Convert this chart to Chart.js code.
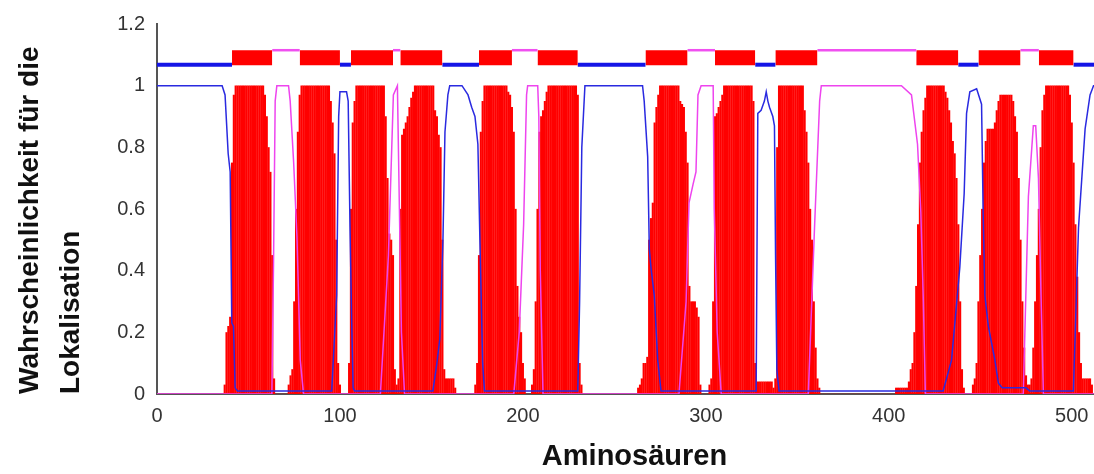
<!DOCTYPE html>
<html lang="de">
  <head>
    <meta charset="UTF-8" />
    <title>TMHMM</title>
    <script src="https://cdn.jsdelivr.net/npm/chart.js@4.4.1/dist/chart.umd.min.js"></script>
    <style>
      html, body { margin: 0; background: #fff; overflow: hidden; }
    </style>
  </head>
  <body>
    <!-- the original plot is cut off on the right, so the canvas is a bit wider than the window -->
    <canvas id="tm-chart" width="1112" height="474"></canvas>
    <script>
      // transmembrane probability, per residue, starting at tmStart[i]
      const tmStart = [37, 72, 105, 132, 174, 205, 263, 302, 338, 404, 446, 478];
      const tmProfiles = [
        [0.03, 0.2, 0.22, 0.25, 0.75, 0.97, 1, 1, 1, 1, 1, 1, 1, 1, 1, 1, 1, 1, 1, 1, 1, 1, 0.97, 0.9, 0.8, 0.72, 0.45, 0.05],
        [0.03, 0.06, 0.08, 0.3, 0.6, 0.85, 0.97, 1, 1, 1, 1, 1, 1, 1, 1, 1, 1, 1, 1, 1, 1, 1, 1, 0.95, 0.88, 0.78, 0.5, 0.1, 0.03],
        [0.1, 0.6, 0.88, 0.95, 1, 1, 1, 1, 1, 1, 1, 1, 1, 1, 1, 1, 1, 1, 1, 1, 0.9, 0.7, 0.52, 0.5, 0.45, 0.08, 0.03],
        [0.05, 0.6, 0.84, 0.86, 0.88, 0.9, 0.93, 0.96, 0.98, 1, 1, 1, 1, 1, 1, 1, 1, 1, 1, 1, 0.92, 0.9, 0.84, 0.8, 0.5, 0.08, 0.05, 0.05, 0.05, 0.05, 0.05, 0.02],
        [0.03, 0.1, 0.45, 0.85, 0.95, 1, 1, 1, 1, 1, 1, 1, 1, 1, 1, 1, 1, 1, 0.98, 0.97, 0.93, 0.85, 0.6, 0.35, 0.25, 0.2, 0.1, 0.05],
        [0.03, 0.08, 0.3, 0.6, 0.85, 0.9, 0.92, 0.95, 0.98, 1, 1, 1, 1, 1, 1, 1, 1, 1, 1, 1, 1, 1, 1, 1, 1, 0.97, 0.1, 0.03],
        [0.02, 0.03, 0.05, 0.1, 0.1, 0.12, 0.5, 0.57, 0.62, 0.88, 0.93, 0.97, 1, 1, 1, 1, 1, 1, 1, 1, 1, 1, 1, 0.95, 0.94, 0.93, 0.85, 0.75, 0.35, 0.3, 0.3, 0.3, 0.28, 0.25, 0.03],
        [0.03, 0.05, 0.3, 0.9, 0.91, 0.93, 0.95, 0.97, 1, 1, 1, 1, 1, 1, 1, 1, 1, 1, 1, 1, 1, 1, 1, 1, 0.95, 0.1, 0.04, 0.04, 0.04, 0.04, 0.04, 0.04, 0.04, 0.04, 0.04, 0.02],
        [0.05, 0.8, 1, 1, 1, 1, 1, 1, 1, 1, 1, 1, 1, 1, 1, 1, 0.92, 0.85, 0.75, 0.6, 0.5, 0.3, 0.15, 0.05, 0.02],
        [0.02, 0.02, 0.02, 0.02, 0.02, 0.02, 0.02, 0.04, 0.08, 0.1, 0.2, 0.35, 0.55, 0.75, 0.85, 0.92, 0.96, 1, 1, 1, 1, 1, 1, 1, 1, 1, 1, 0.98, 0.96, 0.92, 0.88, 0.82, 0.78, 0.7, 0.55, 0.3, 0.08, 0.02],
        [0.03, 0.05, 0.1, 0.3, 0.45, 0.6, 0.75, 0.82, 0.86, 0.86, 0.86, 0.86, 0.88, 0.92, 0.95, 0.97, 0.97, 0.97, 0.97, 0.97, 0.97, 0.97, 0.95, 0.9, 0.85, 0.7, 0.5, 0.3, 0.15, 0.06, 0.03, 0.03],
        [0.05, 0.15, 0.3, 0.45, 0.6, 0.8, 0.92, 0.97, 1, 1, 1, 1, 1, 1, 1, 1, 1, 1, 1, 1, 1, 0.97, 0.88, 0.75, 0.55, 0.38, 0.2, 0.1, 0.05, 0.05, 0.05, 0.05, 0.05, 0.03],
      ];

      // inside probability (blue), read as vertices
      const insideX = [0, 35.6, 37.2, 38.9, 40, 40.9, 41.8, 42.7, 44, 95.5, 98.2, 99.3, 100, 103.6, 104.5, 105.5, 106.4, 107.2, 108,
        150.8, 153, 154.6, 156.3, 157.4, 159, 160, 166.7, 170, 172, 173.8, 175.4, 176.5, 178, 179,
        230, 231, 232.2, 233.9, 265.4, 266.3, 268.2, 269.1, 270, 271.8, 273.7, 275.5,
        327.5, 328.4, 330.2, 332, 333, 333.9, 334.8, 336.6, 337.5, 338.1, 338.8, 340,
        429.7, 434.3, 438.8, 441.2, 442.5, 444.3, 448, 450.7, 451.6, 452.5, 454.4, 458, 459.9, 462, 475, 477,
        500.9, 503.7, 505.5, 507.3, 510, 511.9, 513];
      const insideY = [1, 1, 0.97, 0.78, 0.72, 0.23, 0.22, 0.02, 0.01, 0.01, 0.32, 0.9, 0.98, 0.98, 0.95, 0.54, 0.24, 0.02, 0.01,
        0.01, 0.1, 0.18, 0.5, 0.85, 0.97, 1, 1, 0.97, 0.93, 0.9, 0.81, 0.5, 0.1, 0.01,
        0.01, 0.3, 0.8, 1, 1, 0.95, 0.77, 0.47, 0.41, 0.32, 0.11, 0.01,
        0.01, 0.91, 0.92, 0.95, 0.98, 0.95, 0.93, 0.9, 0.87, 0.45, 0.08, 0.01,
        0.01, 0.11, 0.41, 0.65, 0.91, 0.98, 0.99, 0.94, 0.58, 0.32, 0.22, 0.11, 0.035, 0.02, 0.02, 0.01,
        0.01, 0.54, 0.7, 0.86, 0.97, 1, 1];

      // outside probability (magenta)
      const outsideX = [0, 62.8, 63.7, 64.6, 65.5, 71.9, 72.8, 74.7, 76.5, 78.3, 80.1,
        122.1, 126.5, 129.2, 131.4, 132.5, 133.6, 135.3,
        195, 198, 200.4, 202, 202.6, 208.1, 208.7, 209.5, 211,
        285.3, 289.2, 290.8, 293, 294.6, 295.7, 297.4, 304, 304.6, 306.2, 308.4,
        356, 359.4, 362.2, 363.1, 406.9, 412.4, 415.7, 417.5, 418.8, 420,
        473.5, 476.3, 479, 480.3, 481.8, 483.2, 484.5, 513];
      const outsideY = [0, 0, 0.43, 0.95, 1, 1, 0.95, 0.75, 0.51, 0.11, 0,
        0, 0.45, 0.97, 1, 0.6, 0.2, 0,
        0, 0.2, 0.55, 0.97, 1, 1, 0.9, 0.4, 0,
        0, 0.3, 0.62, 0.68, 0.72, 0.97, 1, 1, 0.6, 0.2, 0,
        0, 0.54, 0.95, 1, 1, 0.97, 0.81, 0.59, 0.32, 0,
        0, 0.64, 0.87, 0.87, 0.7, 0.32, 0, 0];

      // predicted topology: i = inside, M = helix, o = outside
      const topoStart = [0, 41, 63, 78, 100, 106, 129, 133, 156, 176, 194, 208, 230, 267, 290, 305, 327, 338, 361, 415, 438, 449, 472, 482, 501];
      const topoEnd = [41, 63, 78, 100, 106, 129, 133, 156, 176, 194, 208, 230, 267, 290, 305, 327, 338, 361, 415, 438, 449, 472, 482, 501, 513];
      const topoType = ["i", "M", "o", "M", "i", "M", "o", "M", "i", "M", "o", "M", "i", "M", "o", "M", "i", "M", "o", "M", "i", "M", "o", "M", "i"];

      const xTicks = [0, 100, 200, 300, 400, 500];
      const yTicks = [0, 0.2, 0.4, 0.6, 0.8, 1, 1.2];
      const lastResidue = 512;

      const tmData = [];
      for (let r = 0; r <= lastResidue; r++) tmData.push({ x: r, y: 0 });
      tmStart.forEach((s, i) => {
        tmProfiles[i].forEach((v, j) => { tmData[s + j].y = v; });
      });

      const toPoints = (xs, ys) => xs.map((x, i) => ({ x: x, y: ys[i] }));

      const datasets = [];
      topoType.forEach((t, i) => {
        if (t === "M") {
          datasets.push({
            type: "line",
            data: [{ x: topoStart[i], y: 1.115 }, { x: topoEnd[i], y: 1.115 }],
            borderWidth: 0,
            borderColor: "rgba(0,0,0,0)",
            backgroundColor: "#ff0000",
            fill: { value: 1.066 },
            pointRadius: 0,
            order: 0,
          });
        } else {
          const inside = t === "i";
          datasets.push({
            type: "line",
            data: [{ x: topoStart[i], y: inside ? 1.068 : 1.115 }, { x: topoEnd[i], y: inside ? 1.068 : 1.115 }],
            borderWidth: inside ? 4 : 2.5,
            borderColor: inside ? "#1515e6" : "#f050f0",
            pointRadius: 0,
            fill: false,
            order: 0,
          });
        }
      });
      datasets.push({
        type: "line",
        data: toPoints(insideX, insideY),
        borderColor: "#2a2ae0",
        borderWidth: 1.5,
        pointRadius: 0,
        fill: false,
        order: 1,
      });
      datasets.push({
        type: "line",
        data: toPoints(outsideX, outsideY),
        borderColor: "#ee44ee",
        borderWidth: 1.5,
        pointRadius: 0,
        fill: false,
        order: 2,
      });
      datasets.push({
        type: "bar",
        data: tmData,
        backgroundColor: "#ff0000",
        borderWidth: 0,
        barPercentage: 1,
        categoryPercentage: 1,
        inflateAmount: 0.15,
        order: 3,
      });

      const tickFont = { family: "Liberation Sans", size: 20 };

      new Chart(document.getElementById("tm-chart").getContext("2d"), {
        type: "bar",
        data: { datasets: datasets },
        options: {
          responsive: false,
          animation: false,
          layout: { padding: { top: 21, left: 0, right: 0, bottom: 0 } },
          plugins: { legend: { display: false }, tooltip: { enabled: false } },
          scales: {
            x: {
              type: "linear",
              min: 0,
              max: 522,
              offset: false,
              grid: { display: false, drawTicks: false },
              border: { display: true, color: "#555", width: 2 },
              afterBuildTicks: (scale) => { scale.ticks = xTicks.map((v) => ({ value: v })); },
              ticks: { padding: 10, font: tickFont, color: "#333", maxRotation: 0 },
              title: {
                display: true,
                text: "Aminosäuren",
                font: { family: "Liberation Sans", size: 29, weight: "bold", lineHeight: 1.2 },
                color: "#111",
                padding: { top: 0, bottom: 0 },
              },
              afterFit: (scale) => { scale.height = 80; },
            },
            y: {
              min: 0,
              max: 1.2,
              grid: { display: false, drawTicks: false },
              border: { display: true, color: "#555", width: 2 },
              afterBuildTicks: (scale) => { scale.ticks = yTicks.map((v) => ({ value: v })); },
              ticks: {
                padding: 12,
                font: tickFont,
                color: "#333",
                callback: (v) => String(Math.round(v * 10) / 10),
              },
              title: {
                display: true,
                text: ["Wahrscheinlichkeit für die", "Lokalisation"],
                align: "start",
                font: { family: "Liberation Sans", size: 28, weight: "bold", lineHeight: 1.45 },
                color: "#111",
                padding: { top: 10, bottom: 0 },
              },
              afterFit: (scale) => { scale.width = 157; },
            },
          },
        },
      });
    </script>
  </body>
</html>
